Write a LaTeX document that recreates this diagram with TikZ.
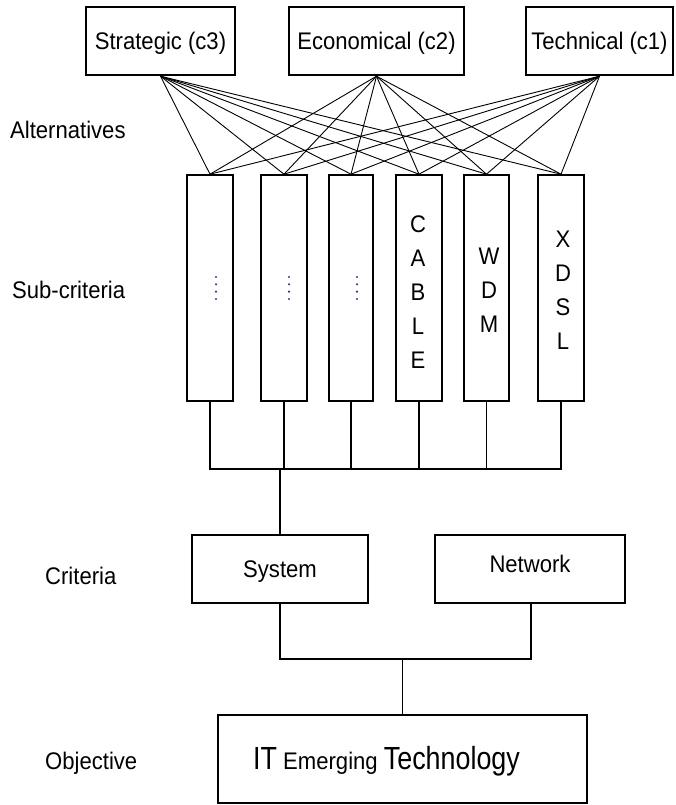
\documentclass[tikz,border=0pt]{standalone}
\usepackage{fontspec}
\setmainfont{Liberation Sans}[FakeStretch=0.92]
\newfontfamily\titlefont{Liberation Sans}[FakeStretch=0.84]
\definecolor{dotblue}{RGB}{45,60,120}
\tikzset{
  topbox/.style={draw, line width=2.4pt, inner sep=0pt, text height=17.2pt, text depth=0pt},
  subbox/.style={draw, line width=1.6pt, inner sep=0pt, minimum width=46pt, minimum height=226pt},
  critbox/.style={draw, line width=1.3pt, inner sep=0pt, minimum height=68pt, text height=17.2pt, text depth=0pt},
  tie/.style={line width=0.9pt},
  bus/.style={line width=1.3pt, line join=miter},
  stack/.style={align=center, inner sep=0pt, font=\fontsize{24}{34}\selectfont},
  level/.style={anchor=base west, inner sep=0pt},
  vdot/.style={fill=dotblue, draw=none}
}
\begin{document}
\begin{tikzpicture}[x=1pt, y=-1pt, font=\fontsize{24}{28}\selectfont]
\useasboundingbox (0,0) rectangle (676,805);

% level labels
\node[level] (lalt)  at (10,138.5) {Alternatives};
\node[level] (lsub)  at (12,298)   {Sub-criteria};
\node[level] (lcrit) at (45,584)   {Criteria};
\node[level] (lobj)  at (45,769)   {Objective};

% alternatives
\node[topbox, minimum width=149pt, minimum height=68pt] (c3) at (160.5,41) {Strategic (c3)};
\node[topbox, minimum width=175pt, minimum height=68pt] (c2) at (376.5,41) {Economical (c2)};
\node[topbox, minimum width=147pt, minimum height=68pt] (c1) at (599.5,41) {Technical (c1)};

% sub-criteria columns
\node[subbox] (s1) at (210,288)   {};
\node[subbox] (s2) at (284,288)   {};
\node[subbox, minimum width=44pt] (s3) at (351,288) {};
\node[subbox] (s4) at (419,288)   {};
\node[subbox, minimum width=45pt] (s5) at (486.5,288) {};
\node[subbox] (s6) at (561,288)   {};

\node[stack] (tcable) at (418,292) {C\\A\\B\\L\\E};
\node[stack] (twdm)   at (489,290) {W\\D\\M};
\node[stack] (txdsl)  at (563,290) {X\\D\\S\\L};

% vertical ellipses in the unnamed columns
\foreach \c/\dx in {s1/6, s2/5, s3/6} {
  \foreach \yy in {277,284.3,291.6,299} {
    \fill[vdot] ([xshift=\dx pt]\c.center |- 0,\yy) circle (1.2pt);
  }
}

% links alternatives -> sub-criteria
\foreach \a in {c1,c2,c3} {
  \foreach \s in {s1,s2,s3,s4,s5,s6} {
    \draw[tie] (\a.south) -- (\s.north);
  }
}

% criteria
\node[critbox, minimum width=176pt] (sys) at (280,569) {System};
\node[critbox, minimum width=190pt, text depth=10pt] (net) at (530,569) {Network};

% objective
\node[draw, line width=1.3pt, minimum width=369pt, minimum height=88pt, inner sep=0pt] (obj) at (402.5,759) {};
\node[anchor=base west, inner sep=0pt] (objtxt) at (253,769)
  {{\titlefont\fontsize{32}{32}\selectfont IT} {\fontsize{24}{24}\selectfont Emerging} {\titlefont\fontsize{32}{32}\selectfont Technology}};

% bus under the sub-criteria
\coordinate (busy) at (0,469);
\coordinate (bus)  at (sys.north |- busy);
\draw[bus] (s1.south) -- (s1.south |- busy) -- (s6.south |- busy) -- (s6.south);
\foreach \s in {s2,s3,s4,s5} {
  \draw[bus] (\s.south) -- (\s.south |- busy);
}
\draw[bus] (bus) -- (sys.north);

% bus under the criteria
\coordinate (bus2y) at (0,659);
\coordinate (bus2) at (obj.north |- bus2y);
\draw[bus] (sys.south) -- (sys.south |- bus2y) -- ([xshift=1pt]net.south |- bus2y) -- ([xshift=1pt]net.south);
\draw[bus] (bus2) -- (obj.north);
\end{tikzpicture}
\end{document}
